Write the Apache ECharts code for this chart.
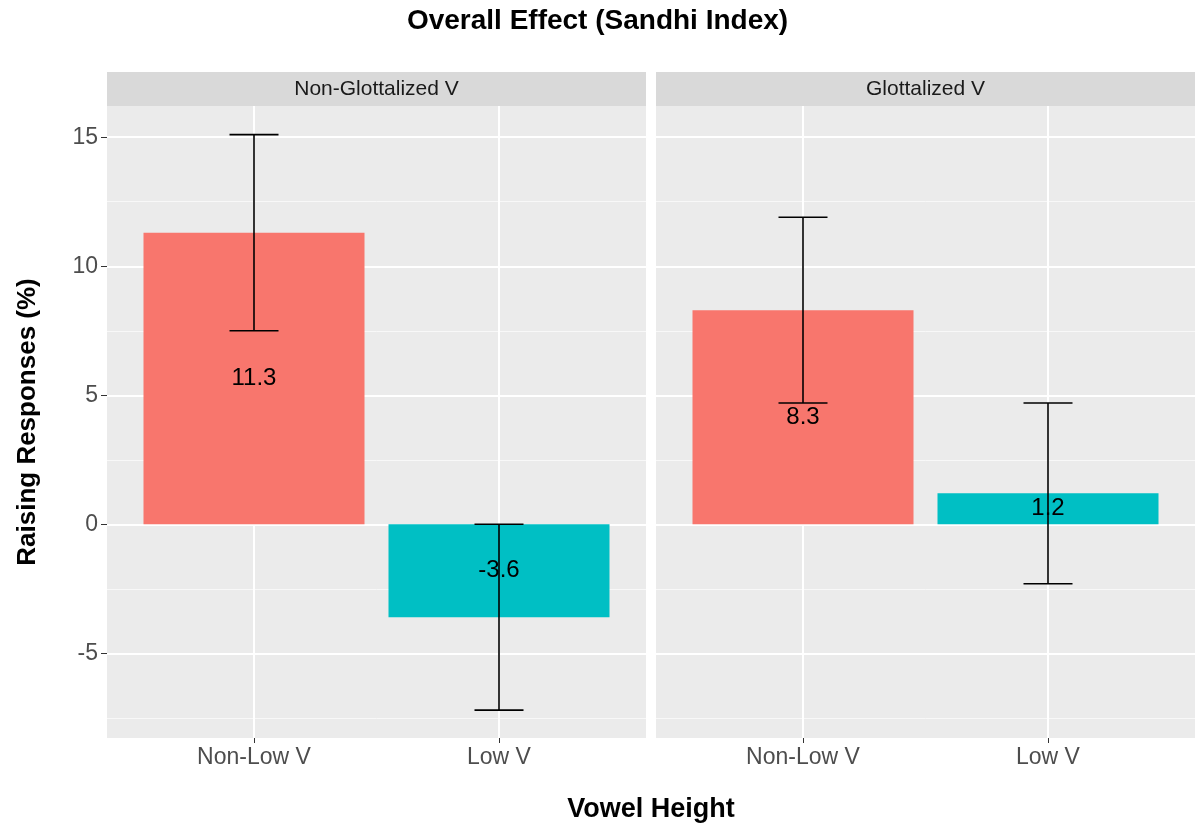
<!DOCTYPE html>
<html>
<head>
<meta charset="utf-8">
<script src="https://cdn.jsdelivr.net/npm/echarts@6/dist/echarts.min.js"></script>
<style>
    html, body { margin: 0; padding: 0; background: #fff; }
    #chart { width: 1195px; height: 825px; }
</style>
</head>
<body>
<div id="chart"></div>
<script>
    // facet panels and categories
    var panels = ['Non-Glottalized V', 'Glottalized V'];
    var heights = ['Non-Low V', 'Low V'];

    // bar values per panel (in order of heights)
    var means = [[11.3, -3.6], [8.3, 1.2]];
    var lowerCI = [[7.5, -7.2], [4.7, -2.3]];
    var upperCI = [[15.1, 0.0], [11.9, 4.7]];

    // axis ticks
    var yMajor = [-5, 0, 5, 10, 15];
    var yMinor = [-7.5, -2.5, 2.5, 7.5, 12.5];
    var yMin = -8.28, yMax = 16.21;

    var colors = ['#F8766D', '#00BFC4'];
    var font = 'Liberation Sans';

    var chart = echarts.init(document.getElementById('chart'));

    var gridLeft = [107, 656];
    var gridW = 539;
    var gridTop = 106, gridH = 632;

    var grids = [], xAxes = [], yAxes = [], series = [], graphics = [];

    panels.forEach(function (p, i) {
        grids.push({
            left: gridLeft[i], top: gridTop, width: gridW, height: gridH,
            show: true, backgroundColor: '#EBEBEB', borderWidth: 0
        });

        xAxes.push({
            type: 'value', gridIndex: i, min: 0.4, max: 2.6,
            axisLine: { show: false, onZero: false },
            axisTick: { show: true, customValues: [1, 2], length: 5, lineStyle: { color: '#333', width: 1 } },
            axisLabel: {
                customValues: [1, 2], margin: 8, color: '#4D4D4D', fontSize: 23, fontFamily: font,
                formatter: function (v) { return heights[Math.round(v) - 1]; }
            },
            splitLine: { show: true, lineStyle: { color: '#fff', width: 2 } }
        });

        // major y axis
        yAxes.push({
            type: 'value', gridIndex: i, min: yMin, max: yMax,
            axisLine: { show: false, onZero: false },
            axisTick: { show: i === 0, customValues: yMajor, length: 6, lineStyle: { color: '#333', width: 1 } },
            axisLabel: { show: i === 0, customValues: yMajor, margin: 9, color: '#4D4D4D', fontSize: 23, fontFamily: font },
            splitLine: { show: true, lineStyle: { color: '#fff', width: 2 } },
            name: i === 0 ? 'Raising Responses (%)' : '',
            nameLocation: 'middle', nameGap: 66, nameRotate: 90,
            nameTextStyle: { fontSize: 26, fontWeight: 'bold', color: '#000', fontFamily: font }
        });
        // minor y gridlines
        yAxes.push({
            type: 'value', gridIndex: i, min: yMin, max: yMax,
            axisLine: { show: false, onZero: false },
            axisTick: { show: false, customValues: yMinor },
            axisLabel: { show: false, customValues: yMinor },
            splitLine: { show: true, lineStyle: { color: '#F8F8F8', width: 1 } }
        });

        var barData = means[i].map(function (v, j) {
            return { value: [j + 1, v], itemStyle: { color: colors[j] } };
        });
        series.push({
            type: 'bar', xAxisIndex: i, yAxisIndex: i * 2,
            barWidth: 221, z: 3,
            data: barData,
            label: {
                show: true, position: 'inside', color: '#000', fontSize: 24, fontFamily: font,
                formatter: function (p) { return p.value[1].toFixed(1); }
            }
        });

        var errData = means[i].map(function (v, j) {
            return [j + 1, lowerCI[i][j], upperCI[i][j]];
        });
        series.push({
            type: 'custom', xAxisIndex: i, yAxisIndex: i * 2, z: 4,
            data: errData,
            renderItem: function (params, api) {
                var x = api.value(0);
                var lo = api.coord([x, api.value(1)]);
                var hi = api.coord([x, api.value(2)]);
                var half = api.size([0.1, 0])[0];
                var st = { stroke: '#000', lineWidth: 1.6 };
                return {
                    type: 'group',
                    children: [
                        { type: 'line', shape: { x1: lo[0], y1: lo[1], x2: hi[0], y2: hi[1] }, style: st },
                        { type: 'line', shape: { x1: lo[0] - half, y1: lo[1], x2: lo[0] + half, y2: lo[1] }, style: st },
                        { type: 'line', shape: { x1: hi[0] - half, y1: hi[1], x2: hi[0] + half, y2: hi[1] }, style: st }
                    ]
                };
            }
        });

        // facet strip
        graphics.push({
            type: 'rect', left: gridLeft[i], top: 72,
            shape: { width: gridW, height: 34 },
            style: { fill: '#D9D9D9' }
        });
        graphics.push({
            type: 'text', x: gridLeft[i] + gridW / 2, y: 89,
            style: {
                text: p, fill: '#1A1A1A', fontSize: 21, fontFamily: font,
                textAlign: 'center', textVerticalAlign: 'middle'
            }
        });
    });

    graphics.push({
        type: 'text', x: 651, y: 810,
        style: {
            text: 'Vowel Height', fill: '#000', fontSize: 27, fontWeight: 'bold', fontFamily: font,
            textAlign: 'center', textVerticalAlign: 'middle'
        }
    });

    var option = {
        backgroundColor: '#fff',
        animation: false,
        title: {
            text: 'Overall Effect (Sandhi Index)',
            left: 'center', top: 2,
            textStyle: { fontSize: 28, fontWeight: 'bold', color: '#000', fontFamily: font }
        },
        grid: grids,
        xAxis: xAxes,
        yAxis: yAxes,
        series: series,
        graphic: graphics
    };

    chart.setOption(option);
</script>
</body>
</html>
